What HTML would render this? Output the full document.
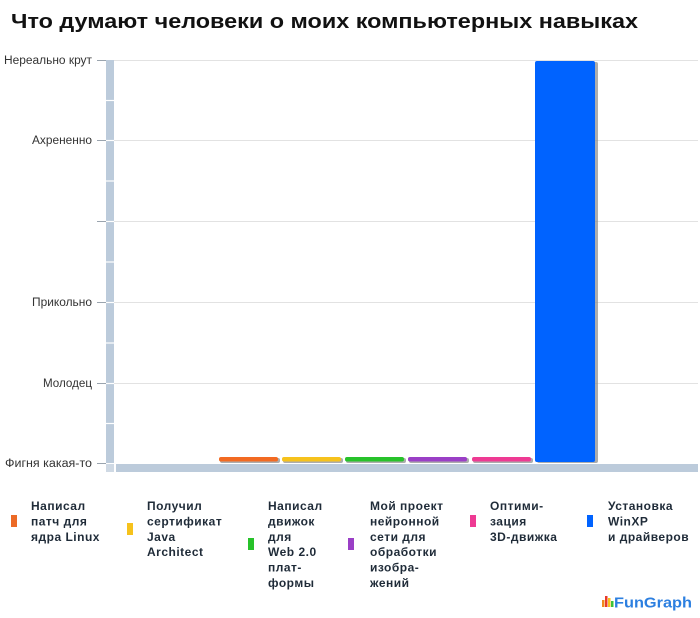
<!DOCTYPE html>
<html><head><meta charset="utf-8">
<style>
html,body{margin:0;padding:0;background:#fff;}
svg{display:block;}
</style></head>
<body>
<svg width="700" height="618" viewBox="0 0 700 618" xmlns="http://www.w3.org/2000/svg">
<rect width="700" height="618" fill="#fff"/>
<text x="11" y="28" font-family="Liberation Sans, Arial, sans-serif" font-weight="bold" font-size="20.5" fill="#111" textLength="627" lengthAdjust="spacingAndGlyphs">Что думают человеки о моих компьютерных навыках</text>

<!-- grid lines -->
<g stroke="#e2e2e2" stroke-width="1">
<line x1="114" y1="60.5" x2="698" y2="60.5"/>
<line x1="114" y1="140.5" x2="698" y2="140.5"/>
<line x1="114" y1="221.5" x2="698" y2="221.5"/>
<line x1="114" y1="302.5" x2="698" y2="302.5"/>
<line x1="114" y1="383.5" x2="698" y2="383.5"/>
</g>
<!-- ticks -->
<g stroke="#9aa4ae" stroke-width="1">
<line x1="97" y1="60.5" x2="106" y2="60.5"/>
<line x1="97" y1="140.5" x2="106" y2="140.5"/>
<line x1="97" y1="221.5" x2="106" y2="221.5"/>
<line x1="97" y1="302.5" x2="106" y2="302.5"/>
<line x1="97" y1="383.5" x2="106" y2="383.5"/>
<line x1="97" y1="463.5" x2="106" y2="463.5"/>
</g>
<!-- y axis bar -->
<rect x="106" y="60" width="8" height="403" fill="#bccbdb"/>
<g stroke="#fff" stroke-width="1.2">
<line x1="106" y1="100.5" x2="114" y2="100.5"/>
<line x1="106" y1="140.5" x2="114" y2="140.5"/>
<line x1="106" y1="181" x2="114" y2="181"/>
<line x1="106" y1="221.5" x2="114" y2="221.5"/>
<line x1="106" y1="262" x2="114" y2="262"/>
<line x1="106" y1="302.5" x2="114" y2="302.5"/>
<line x1="106" y1="343" x2="114" y2="343"/>
<line x1="106" y1="383.5" x2="114" y2="383.5"/>
<line x1="106" y1="423.5" x2="114" y2="423.5"/>
</g>
<rect x="106" y="464" width="8" height="8" fill="#cfd9e4"/>
<rect x="116" y="464" width="582" height="8" fill="#bccbdb"/>

<!-- y labels -->
<g font-family="Liberation Sans, Arial, sans-serif" font-size="11.5" fill="#333" text-anchor="end">
<text x="92" y="64" textLength="88" lengthAdjust="spacingAndGlyphs">Нереально крут</text>
<text x="92" y="144" textLength="60" lengthAdjust="spacingAndGlyphs">Ахрененно</text>
<text x="92" y="306" textLength="60" lengthAdjust="spacingAndGlyphs">Прикольно</text>
<text x="92" y="387" textLength="49" lengthAdjust="spacingAndGlyphs">Молодец</text>
<text x="92" y="467" textLength="87" lengthAdjust="spacingAndGlyphs">Фигня какая-то</text>
</g>

<!-- bars shadows -->
<g fill="#8a8a8a" opacity="0.7">
<rect x="220" y="458" width="60" height="5" rx="2"/>
<rect x="283" y="458" width="60" height="5" rx="2"/>
<rect x="346" y="458" width="60" height="5" rx="2"/>
<rect x="409" y="458" width="60" height="5" rx="2"/>
<rect x="473" y="458" width="60" height="5" rx="2"/>
<rect x="537" y="62" width="61" height="401" rx="2"/>
</g>
<!-- bars -->
<rect x="219" y="457" width="59" height="4.5" rx="2" fill="#f26a22"/>
<rect x="282" y="457" width="59" height="4.5" rx="2" fill="#f6c21c"/>
<rect x="345" y="457" width="59" height="4.5" rx="2" fill="#27c22a"/>
<rect x="408" y="457" width="59" height="4.5" rx="2" fill="#9a3fc6"/>
<rect x="472" y="457" width="59" height="4.5" rx="2" fill="#ee3a93"/>
<rect x="535" y="61" width="60" height="401" rx="2" fill="#0063ff"/>

<!-- legend -->
<rect x="11" y="515" width="6" height="12" fill="#ec6a26"/>
<rect x="127" y="523" width="6" height="12" fill="#f6c21c"/>
<rect x="248" y="538" width="6" height="12" fill="#27c22a"/>
<rect x="348" y="538" width="6" height="12" fill="#9a3fc6"/>
<rect x="470" y="515" width="6" height="12" fill="#ee3a93"/>
<rect x="587" y="515" width="6" height="12" fill="#0063ff"/>

<g font-family="Liberation Sans, Arial, sans-serif" font-weight="bold" font-size="12" fill="#1f2b38" letter-spacing="0.5">
<text x="31" y="510">Написал</text>
<text x="31" y="525.4">патч для</text>
<text x="31" y="540.8">ядра Linux</text>

<text x="147" y="510">Получил</text>
<text x="147" y="525.4">сертификат</text>
<text x="147" y="540.8">Java</text>
<text x="147" y="556.2">Architect</text>

<text x="268" y="510">Написал</text>
<text x="268" y="525.4">движок</text>
<text x="268" y="540.8">для</text>
<text x="268" y="556.2">Web 2.0</text>
<text x="268" y="571.6">плат-</text>
<text x="268" y="587">формы</text>

<text x="370" y="510">Мой проект</text>
<text x="370" y="525.4">нейронной</text>
<text x="370" y="540.8">сети для</text>
<text x="370" y="556.2">обработки</text>
<text x="370" y="571.6">изобра-</text>
<text x="370" y="587">жений</text>

<text x="490" y="510">Оптими-</text>
<text x="490" y="525.4">зация</text>
<text x="490" y="540.8">3D-движка</text>

<text x="608" y="510">Установка</text>
<text x="608" y="525.4">WinXP</text>
<text x="608" y="540.8">и драйверов</text>
</g>

<!-- FunGraph logo -->
<rect x="602" y="600" width="2.5" height="7" fill="#f08a1c"/>
<rect x="605" y="596" width="2.5" height="11" fill="#e83a2a"/>
<rect x="608" y="598" width="2.5" height="9" fill="#f6c21c"/>
<rect x="611" y="601" width="2.5" height="6" fill="#3cc23a"/>
<text x="614" y="607.5" font-family="Liberation Sans, Arial, sans-serif" font-weight="bold" font-size="15" fill="#2c7fe0" textLength="78" lengthAdjust="spacingAndGlyphs">FunGraph</text>
</svg>
</body></html>
